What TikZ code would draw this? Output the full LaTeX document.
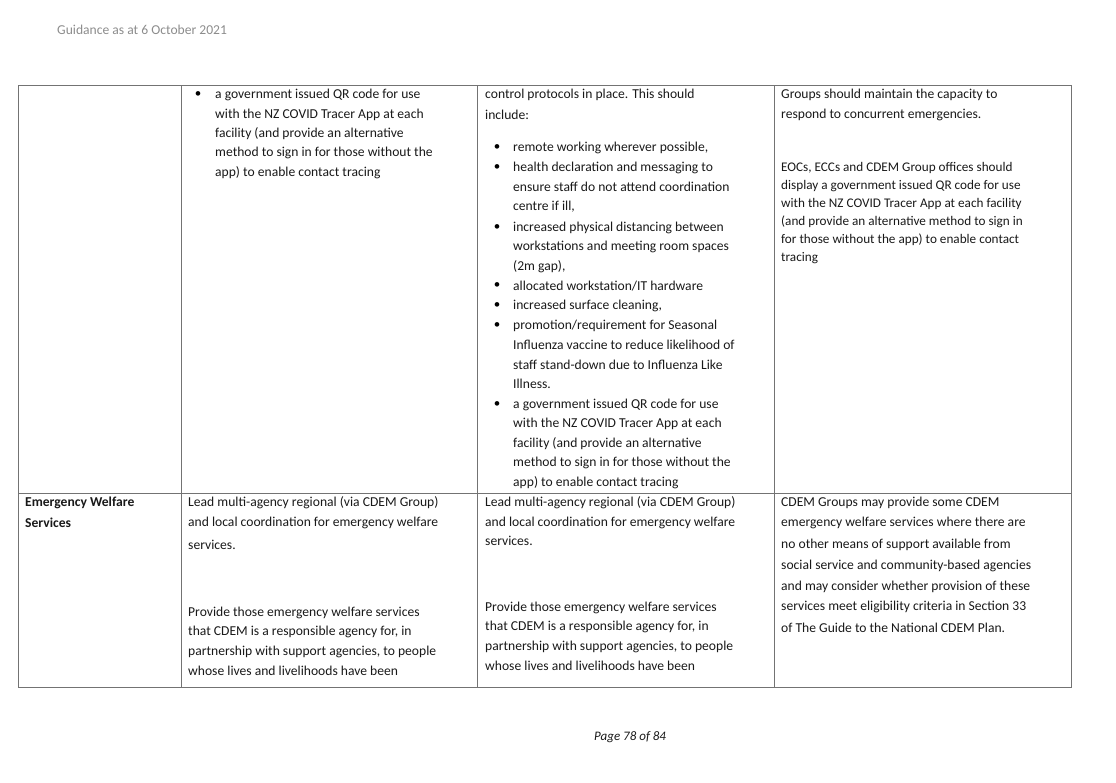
\documentclass[tikz,border=0pt]{standalone}
\usepackage{fontspec}
\setmainfont{Carlito}
\begin{document}
\begin{tikzpicture}[x=1pt,y=-1pt,
  tx/.style={anchor=west,inner sep=0pt,font=\fontsize{13.6}{16}\selectfont,text=black!90},
  tx4/.style={tx,font=\fontsize{13.2}{16}\selectfont},
  bl/.style={anchor=center,inner sep=0pt,font=\fontsize{13}{16}\selectfont},
  grid/.style={draw=black!55,line width=0.7pt}]
\useasboundingbox (0,0) rectangle (1116,782);
\node[tx,text=black!45,font=\fontsize{13.6}{16}\selectfont] (hdr) at (57,30) {Guidance as at 6 October 2021};
\node[tx,font=\fontsize{13}{16}\selectfont\itshape] (ftr) at (594,737) {Page 78 of 84};
% grid
\draw[grid] (18,85) rectangle (1071,687);
\draw[grid] (18,493) -- (1071,493);
\foreach \c in {181,477,774} \draw[grid] (\c,85) -- (\c,687);
% column 2 row 1
\node[bl] at (198,95) {•};
\node[tx] at (215,95) {a government issued QR code for use};
\node[tx] at (215,115) {with the NZ COVID Tracer App at each};
\node[tx] at (215,134) {facility (and provide an alternative};
\node[tx] at (215,153) {method to sign in for those without the};
\node[tx] at (215,173) {app) to enable contact tracing};
% column 3 row 1
\node[tx] at (485,95) {control protocols in place.  This should};
\node[tx] at (485,115) {include:};
\foreach \y in {148,168,228,286,306,326,405} \node[bl] at (497,\y) {•};
\node[tx] at (513,148) {remote working wherever possible,};
\node[tx] at (513,168) {health declaration and messaging to};
\node[tx] at (513,187) {ensure staff do not attend coordination};
\node[tx] at (513,207) {centre if ill,};
\node[tx] at (513,228) {increased physical distancing between};
\node[tx] at (513,247) {workstations and meeting room spaces};
\node[tx] at (513,267) {(2m gap),};
\node[tx] at (513,286) {allocated workstation/IT hardware};
\node[tx] at (513,306) {increased surface cleaning,};
\node[tx] at (513,326) {promotion/requirement for Seasonal};
\node[tx] at (513,345) {Influenza vaccine to reduce likelihood of};
\node[tx] at (513,365) {staff stand-down due to Influenza Like};
\node[tx] at (513,384) {Illness.};
\node[tx] at (513,405) {a government issued QR code for use};
\node[tx] at (513,424) {with the NZ COVID Tracer App at each};
\node[tx] at (513,444) {facility (and provide an alternative};
\node[tx] at (513,463) {method to sign in for those without the};
\node[tx] at (513,483) {app) to enable contact tracing};
% column 4 row 1
\node[tx] at (781,95) {Groups should maintain the capacity to};
\node[tx] at (781,115) {respond to concurrent emergencies.};
\node[tx4] at (781,168) {EOCs, ECCs and CDEM Group offices should};
\node[tx4] at (781,186) {display a government issued QR code for use};
\node[tx4] at (781,204) {with the NZ COVID Tracer App at each facility};
\node[tx4] at (781,222) {(and provide an alternative method to sign in};
\node[tx4] at (781,240) {for those without the app) to enable contact};
\node[tx4] at (781,258) {tracing};
% row 2
\node[tx,font=\fontsize{13.6}{16}\selectfont\bfseries] at (25,503) {Emergency Welfare};
\node[tx,font=\fontsize{13.6}{16}\selectfont\bfseries] at (25,523) {Services};
\node[tx] at (188,503) {Lead multi-agency regional (via CDEM Group)};
\node[tx] at (188,523) {and local coordination for emergency welfare};
\node[tx] at (188,545) {services.};
\node[tx] at (188,613) {Provide those emergency welfare services};
\node[tx] at (188,632) {that CDEM is a responsible agency for, in};
\node[tx] at (188,652) {partnership with support agencies, to people};
\node[tx] at (188,671) {whose lives and livelihoods have been};
\node[tx] at (485,503) {Lead multi-agency regional (via CDEM Group)};
\node[tx] at (485,523) {and local coordination for emergency welfare};
\node[tx] at (485,541) {services.};
\node[tx] at (485,608) {Provide those emergency welfare services};
\node[tx] at (485,627) {that CDEM is a responsible agency for, in};
\node[tx] at (485,647) {partnership with support agencies, to people};
\node[tx] at (485,666) {whose lives and livelihoods have been};
\node[tx] at (781,503) {CDEM Groups may provide some CDEM};
\node[tx] at (781,523) {emergency welfare services where there are};
\node[tx] at (781,545) {no other means of support available from};
\node[tx] at (781,566) {social service and community-based agencies};
\node[tx] at (781,587) {and may consider whether provision of these};
\node[tx] at (781,607) {services meet eligibility criteria in Section 33};
\node[tx] at (781,628) {of The Guide to the National CDEM Plan.};
\end{tikzpicture}
\end{document}
